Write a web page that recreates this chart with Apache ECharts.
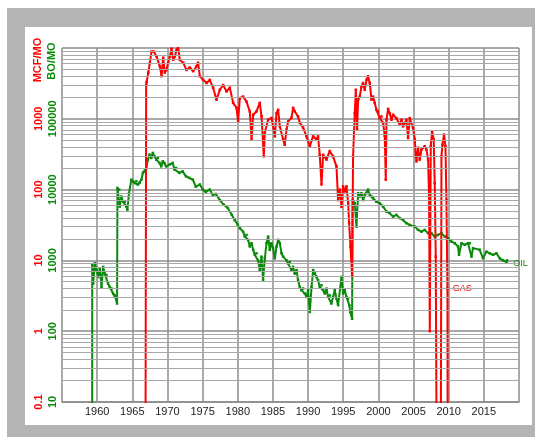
<!DOCTYPE html>
<html><head><meta charset="utf-8">
<script src="https://cdn.jsdelivr.net/npm/echarts@6/dist/echarts.min.js"></script>
<style>html,body{margin:0;padding:0;background:#fff;overflow:hidden}#c{width:535px;height:437px}</style>
</head><body><div id="c"></div>
<script>
// ---- data (MCF/MO for gas, BO/MO for oil); 0.01 / 1 mean "below the axis floor" ----
const gasYears = [1966.87,1966.97,1967.03,1967.27,1967.49,1967.73,1968.06,1968.45,1968.92,1969.16,1969.39,1969.62,1969.86,1970.09,1970.34,1970.58,1970.81,1971.05,1971.29,1971.52,1971.75,1972.23,1972.71,1973.18,1973.65,1974.13,1974.36,1974.6,1975.07,1975.56,1976.02,1976.49,1976.98,1977.45,1977.92,1978.4,1978.87,1979.34,1979.82,1980.05,1980.29,1980.76,1981.24,1981.71,1981.96,1982.19,1982.66,1983.13,1983.38,1983.7,1983.85,1984.32,1984.79,1985.27,1985.51,1985.74,1985.98,1986.45,1986.68,1986.93,1987.16,1987.64,1987.87,1988.11,1988.57,1988.82,1989.29,1989.77,1990.25,1990.71,1991.19,1991.42,1991.66,1991.91,1992.14,1992.62,1993.08,1993.55,1994.04,1994.27,1994.51,1994.75,1994.98,1995.22,1995.47,1995.7,1995.83,1996.03,1996.26,1996.4,1996.64,1996.79,1996.97,1997.12,1997.35,1997.59,1997.82,1998.06,1998.31,1998.53,1998.78,1999.02,1999.25,1999.48,1999.72,1999.95,2000.2,2000.44,2000.67,2000.91,2001.05,2001.15,2001.38,2001.61,2001.86,2002.09,2002.57,2003.04,2003.29,2003.51,2003.99,2004.22,2004.46,2004.93,2005.18,2005.32,2005.42,2005.64,2005.88,2006.12,2006.59,2006.84,2007.07,2007.21,2007.31,2007.45,2007.64,2007.87,2008.01,2008.16,2008.3,2008.87,2008.97,2009.11,2009.34,2009.54,2009.68,2009.82,2009.86];
const gasValues = [0.01,3000,3300,4500,6100,8900,8900,7600,5500,4000,7300,4500,4900,6200,7600,9800,6800,7600,9400,10400,6800,6200,4900,5300,4700,5500,6200,4000,3550,3200,3550,2750,1860,2570,3000,2430,2750,1680,1430,920,1960,2060,1750,1270,510,1140,1270,1680,1080,295,640,970,1030,565,1200,1340,780,510,430,700,920,1030,1430,1270,1080,880,750,565,410,565,510,565,310,118,310,265,350,295,213,71,100,57,111,94,111,64,34,15.7,6,295,1200,2570,700,1860,2060,2860,3200,2570,3550,4000,3200,1860,2060,1680,1340,1270,1020,1080,875,565,138,970,1380,1200,970,1140,1020,830,970,780,970,535,1020,745,510,295,250,390,265,367,410,367,265,80,1.0,410,665,510,124,11.3,0.01,0.01,295,430,600,410,71,4.0,0.01];

const oilYears = [1959.29,1959.3,1959.43,1959.67,1959.91,1960.14,1960.38,1960.62,1960.85,1961.09,1961.32,1961.55,1961.79,1962.04,1962.27,1962.51,1962.75,1962.83,1962.89,1963.12,1963.21,1963.45,1963.68,1963.92,1964.16,1964.3,1964.53,1964.87,1965.1,1965.33,1965.57,1965.8,1966.04,1966.28,1966.51,1966.75,1966.99,1967.22,1967.45,1967.69,1967.92,1968.16,1968.4,1968.63,1968.87,1969.11,1969.34,1969.57,1969.81,1970.28,1970.75,1970.99,1971.23,1971.69,1972.16,1972.64,1973.12,1973.61,1974.03,1974.6,1975.03,1975.46,1976.02,1976.45,1976.88,1977.45,1978.02,1978.58,1979.15,1979.58,1980.0,1980.3,1980.76,1981.0,1981.24,1981.47,1981.71,1981.96,1982.19,1982.42,1982.66,1982.89,1983.13,1983.38,1983.6,1983.85,1984.09,1984.32,1984.55,1984.79,1985.02,1985.27,1985.51,1985.74,1985.98,1986.22,1986.45,1986.93,1987.16,1987.4,1987.64,1987.87,1988.11,1988.36,1988.57,1988.82,1989.06,1989.29,1989.53,1989.77,1990.0,1990.25,1990.49,1990.72,1990.96,1991.19,1991.42,1991.66,1991.91,1992.14,1992.38,1992.62,1992.85,1993.08,1993.31,1993.55,1993.8,1994.04,1994.27,1994.75,1994.98,1995.22,1995.46,1995.69,1995.86,1996.0,1996.17,1996.26,1996.33,1996.64,1996.88,1997.12,1997.35,1997.59,1997.82,1998.06,1998.31,1998.53,1998.78,1999.02,1999.25,1999.72,2000.2,2000.67,2001.15,2001.61,2002.09,2002.57,2003.04,2003.51,2003.99,2004.46,2005.18,2005.64,2006.12,2006.59,2007.07,2007.54,2008.01,2008.48,2008.97,2009.44,2009.9,2010.39,2010.86,2011.33,2011.47,2011.82,2012.28,2012.75,2012.99,2013.24,2013.46,2014.41,2014.88,2015.37,2015.84,2016.31,2016.79,2017.26,2017.73,2018.22,2018.3];
const oilValues = [1,860,470,910,730,585,770,420,810,650,620,470,420,400,340,320,275,246,10560,10000,5750,8000,6750,6750,5750,5200,8900,13800,13100,12400,13100,11800,12400,13800,17200,18100,20200,26500,31200,28000,33000,29500,26500,28000,23800,21300,25100,23800,21300,22500,23800,19200,20200,17200,18100,15400,14600,13800,11000,11800,10000,9300,10000,8400,8700,7100,6100,5500,4400,3700,3200,2850,2550,2170,2290,1950,1570,1750,1410,1200,1260,1000,730,1130,525,1070,1750,2170,1410,1750,1490,1070,1570,1950,1750,1260,1130,1000,900,950,730,810,650,730,525,420,380,400,340,305,380,187,420,730,650,585,525,420,445,380,340,400,305,320,246,305,380,290,233,585,340,380,305,290,233,186,168,150,7100,6400,3000,8900,8000,8900,7100,8400,8900,10000,8400,8000,7550,6750,6400,5750,4900,4650,4150,4400,3950,3730,3350,3170,3000,2700,2550,2700,2420,2420,2170,2290,2420,2170,2060,1840,1750,1570,1200,1750,1660,1750,1750,1130,1490,1410,1070,1330,1260,1200,1260,1070,1000,950,1000];

const xTickLabels = ['1960','1965','1970','1975','1980','1985','1990','1995','2000','2005','2010','2015'];
const gasTickLabels = ['0.1','1','10','100','1000'];
const oilTickLabels = ['10','100','1000','10000','100000'];

const RED = '#ff0000', GREEN = '#0a8a0a';
const FONT = '"Liberation Sans", Arial, Helvetica, sans-serif';

const minorVals = [];
[0.1,1,10,100,1000].forEach(d => { for (let k = 2; k <= 9; k++) minorVals.push(+(d*k).toPrecision(3)); });

const gasLabelIdx = gasValues.reduce((a, v, i) => v >= 0.1 ? i : a, 0);
const gasData = gasYears.map((x, i) => i === gasLabelIdx
  ? {value:[x, gasValues[i]], label:{show:true, formatter:'GAS', position:'right', distance:4, color:RED, fontSize:9, fontFamily:FONT}}
  : [x, gasValues[i]]);
const oilLast = oilYears.length - 1;
const oilData = oilYears.map((x, i) => i === oilLast
  ? {value:[x, oilValues[i]], label:{show:true, formatter:'OIL', position:'right', distance:5, offset:[0,3], color:GREEN, fontSize:9, fontFamily:FONT}}
  : [x, oilValues[i]]);

function decadeLabel(list, base) {
  return v => { const i = Math.round(Math.log10(v / base)); return list[i] !== undefined ? list[i] : ''; };
}

const chart = echarts.init(document.getElementById('c'), null, {renderer:'canvas'});
chart.setOption({
  animation:false,
  backgroundColor:'#ffffff',
  textStyle:{fontFamily:FONT},
  grid:{left:62, top:48, right:16, bottom:35, containLabel:false},
  graphic:[
    {type:'rect', z:-10, shape:{x:7, y:8, width:540, height:440}, style:{fill:'#b4b4b4'}},
    {type:'rect', z:-9, shape:{x:25, y:27, width:507, height:398}, style:{fill:'#ffffff'}},
    {type:'text', x:38, y:60, rotation:Math.PI/2, style:{text:'MCF/MO', fill:RED, font:'bold 11px ' + FONT, textAlign:'center', textVerticalAlign:'middle', align:'center', verticalAlign:'middle'}},
    {type:'text', x:52, y:61, rotation:Math.PI/2, style:{text:'BO/MO', fill:GREEN, font:'bold 11px ' + FONT, textAlign:'center', textVerticalAlign:'middle', align:'center', verticalAlign:'middle'}}
  ],
  xAxis:{
    type:'value', min:1955, max:2020, interval:5,
    axisLine:{show:true, lineStyle:{color:'#8c8c8c', width:1.5}},
    axisTick:{show:false},
    splitLine:{show:true, lineStyle:{color:'#8c8c8c', width:1.5}},
    axisLabel:{color:'#222', fontSize:11, margin:4, fontFamily:FONT,
      formatter: v => { const s = String(Math.round(v)); return xTickLabels.includes(s) ? s : ''; }}
  },
  yAxis:[
    {type:'log', logBase:10, min:0.1, max:10000, position:'left',
      axisLine:{show:false}, axisTick:{show:false},
      splitLine:{show:true, lineStyle:{color:'#8c8c8c', width:1.5}},
      axisLabel:{rotate:90, margin:18, color:RED, fontWeight:'bold', fontSize:11, fontFamily:FONT,
        formatter: decadeLabel(gasTickLabels, 0.1)}},
    {type:'log', logBase:10, min:10, max:1000000, position:'left', offset:0,
      axisLine:{show:false}, axisTick:{show:false}, splitLine:{show:false},
      axisLabel:{rotate:90, margin:4, color:GREEN, fontWeight:'bold', fontSize:11, fontFamily:FONT,
        formatter: decadeLabel(oilTickLabels, 10)}}
  ],
  series:[
    {type:'line', yAxisIndex:0, data:[], z:1, silent:true, showSymbol:false,
      markLine:{silent:true, symbol:['none','none'], label:{show:false}, animation:false,
        lineStyle:{color:'#a8a8a8', width:1, type:'solid'},
        data:minorVals.map(v => ({yAxis:v}))}},
    {name:'OIL', type:'line', yAxisIndex:1, data:oilData, z:3, clip:true,
      symbol:'rect', symbolSize:2.5, showAllSymbol:true,
      lineStyle:{color:GREEN, width:2}, itemStyle:{color:GREEN}},
    {name:'GAS', type:'line', yAxisIndex:0, data:gasData, z:4, clip:true,
      symbol:'rect', symbolSize:2.5, showAllSymbol:true,
      lineStyle:{color:RED, width:2}, itemStyle:{color:RED}}
  ]
});
</script>
</body></html>
